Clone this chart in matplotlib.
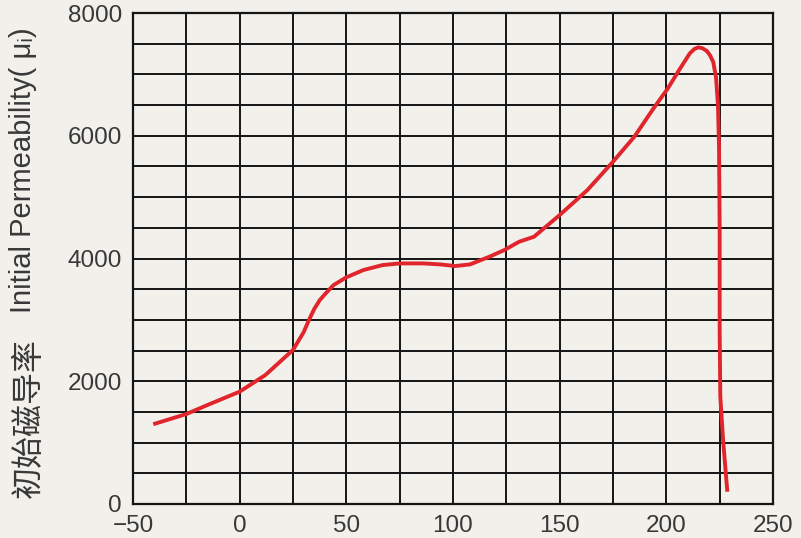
import matplotlib.pyplot as plt
from matplotlib.ticker import MultipleLocator

# temperature (°C) vs initial permeability
temp_c = [-40.5, -25, -14, 0, 12, 25, 30, 32.5, 35, 37.5, 40, 44, 50, 58, 67,
          75, 86, 94, 101, 108, 117, 124, 131, 138, 150, 163, 175, 185, 194,
          200.7, 206.5, 211, 213.2, 215, 217, 219, 220.5, 222, 223.3, 224.2,
          224.7, 225, 225, 225.3, 226.6, 228.6]
permeability = [1300, 1466, 1629, 1830, 2100, 2510, 2800, 3000, 3180, 3320,
                3420, 3567, 3693, 3812, 3893, 3920, 3920, 3904, 3877, 3904,
                4028, 4137, 4273, 4355, 4708, 5115, 5577, 5984, 6446, 6771,
                7098, 7342, 7415, 7440, 7425, 7380, 7310, 7200, 6950, 6500,
                5820, 4464, 2835, 1748, 1043, 200]

x_ticks = [-50, 0, 50, 100, 150, 200, 250]
y_ticks = [0, 2000, 4000, 6000, 8000]

label_cn = "初始磁导率"
label_en = "Initial Permeability( μᵢ)"

BG = "#f2f0ea"
TEXT = "#383838"
LINE_RED = "#e1252c"
W, H = 801, 538

plt.rcParams["font.family"] = ["Liberation Sans", "Noto Sans CJK SC", "DejaVu Sans"]

fig = plt.figure(figsize=(W / 100, H / 100), dpi=100, facecolor=BG)
ax = fig.add_axes([133 / W, 1 - 504 / H, 640 / W, 491 / H], facecolor=BG)

ax.plot(temp_c, permeability, color=LINE_RED, linewidth=2.8,
        solid_joinstyle="round", solid_capstyle="butt", zorder=3)

ax.set_xlim(-50, 250)
ax.set_ylim(0, 8000)
ax.set_xticks(x_ticks)
ax.set_yticks(y_ticks)
ax.xaxis.set_minor_locator(MultipleLocator(25))
ax.yaxis.set_minor_locator(MultipleLocator(500))
ax.grid(True, which="both", color="#151515", linewidth=1.4, zorder=1)
ax.set_axisbelow(True)

for s in ax.spines.values():
    s.set_color("#151515")
    s.set_linewidth(1.6)

ax.tick_params(which="both", length=0, labelsize=17.5, labelcolor=TEXT)
ax.tick_params(axis="y", pad=8)
ax.tick_params(axis="x", pad=8)

# y label: chinese part is set larger than the latin part in the reference
fig.text(29 / W, 1 - 498 / H, label_cn, rotation=90, fontsize=23,
         color=TEXT, ha="center", va="bottom",
         family=["Noto Sans CJK SC", "DejaVu Sans"])
fig.text(23 / W, 1 - 313 / H, label_en, rotation=90, fontsize=21,
         color=TEXT, ha="center", va="bottom",
         family=["Liberation Sans", "DejaVu Sans"])

fig.savefig("out.png", dpi=100, facecolor=BG)
